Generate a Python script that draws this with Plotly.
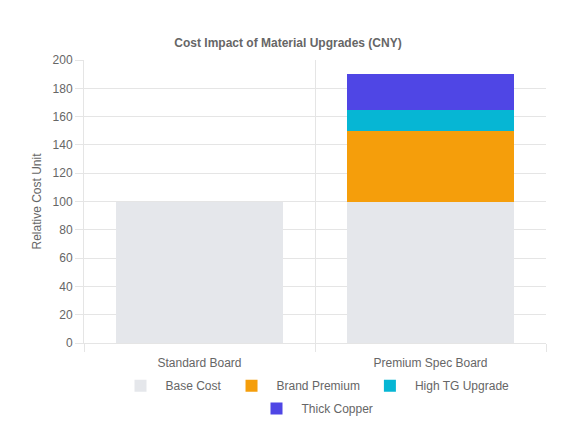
import plotly.graph_objects as go

categories = ["Standard Board", "Premium Spec Board"]
base_cost = [100, 100]
brand_premium = [0, 50]
high_tg_upgrade = [0, 15]
thick_copper = [0, 25]

series = [
    ("Base Cost", base_cost, "#e5e7eb", "legend"),
    ("Brand Premium", brand_premium, "#f59e0b", "legend"),
    ("High TG Upgrade", high_tg_upgrade, "#06b6d4", "legend"),
    ("Thick Copper", thick_copper, "#4f46e5", "legend2"),
]
y_ticks = list(range(0, 201, 20))

xpos = list(range(len(categories)))

fig = go.Figure()
for name, vals, color, leg in series:
    fig.add_trace(go.Bar(
        x=xpos,
        y=vals,
        name=name,
        width=0.72,
        legend=leg,
        marker=dict(color=color, line=dict(width=0)),
    ))

grid = "#e5e5e5"
legend_style = dict(
    orientation="h", x=0.5, xanchor="center", yanchor="top",
    font=dict(size=12, color="#666"), itemwidth=40, traceorder="normal",
)
fig.update_layout(
    barmode="stack",
    width=560,
    height=434,
    margin=dict(l=76, r=22, t=52, b=99),
    paper_bgcolor="white",
    plot_bgcolor="white",
    font=dict(family="Liberation Sans, Arial, sans-serif", size=12, color="#666"),
    title=dict(
        text="<b>Cost Impact of Material Upgrades (CNY)</b>",
        x=0.5, xanchor="center", y=0.92, yanchor="middle",
        font=dict(size=12, color="#666"),
    ),
    showlegend=True,
    legend=dict(legend_style, y=-0.10),
    legend2=dict(legend_style, y=-0.18),
    xaxis=dict(
        range=[-0.5, 1.5],
        tickvals=xpos,
        ticktext=categories,
        showgrid=False,
        zeroline=False,
        showline=True, linecolor=grid,
        # invisible major ticks only push the labels down
        ticks="outside", ticklen=9, tickcolor="rgba(0,0,0,0)",
        minor=dict(tickvals=[-0.5, 0.5, 1.5], showgrid=True, gridcolor=grid,
                   ticks="outside", ticklen=8, tickcolor=grid),
    ),
    yaxis=dict(
        range=[0, 200],
        tickvals=y_ticks,
        gridcolor=grid,
        zeroline=False,
        showline=True, linecolor=grid,
        ticks="outside", ticklen=8, tickcolor=grid,
        title=dict(text="Relative Cost Unit", font=dict(size=12, color="#666"), standoff=8),
    ),
)

fig.write_html("out.html")
